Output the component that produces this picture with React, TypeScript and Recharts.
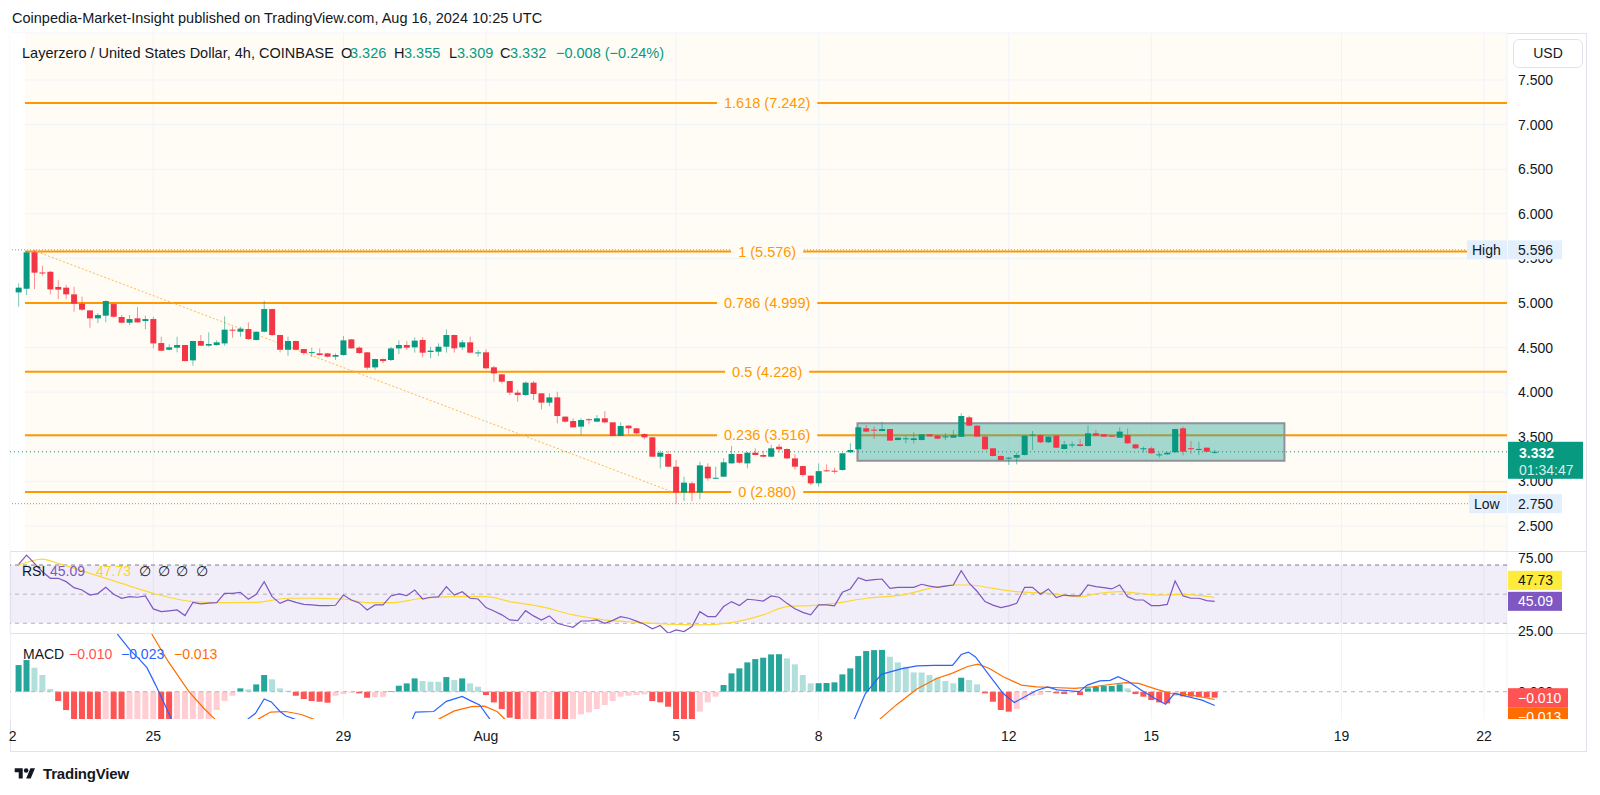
import React from "react";
import {
  ComposedChart,
  Bar,
  Line,
  XAxis,
  YAxis,
  CartesianGrid,
  ReferenceLine,
  ReferenceArea,
  ReferenceDot,
} from "recharts";

// ---------- DATA ----------
const TICK_INDEX = [-1, 17, 41, 59, 83, 101, 125, 143, 167, 185];
const TICK_LABELS = ["2", "25", "29", "Aug", "5", "8", "12", "15", "19", "22"];
const PRICE_TICKS = [2.5, 3, 3.5, 4, 4.5, 5, 5.5, 6, 6.5, 7, 7.5];

const OPEN = [
  5.119, 5.16, 5.568, 5.342, 5.35, 5.18, 5.172, 5.097, 4.992, 4.917,
  4.828, 4.858, 4.988, 4.843, 4.779, 4.828, 4.798, 4.82, 4.551, 4.476,
  4.499, 4.529, 4.357, 4.574, 4.522, 4.529, 4.547, 4.701, 4.678, 4.708,
  4.585, 4.678, 4.932, 4.641, 4.476, 4.574, 4.484, 4.445, 4.435, 4.435,
  4.398, 4.417, 4.592, 4.499, 4.447, 4.278, 4.372, 4.361, 4.491, 4.529,
  4.503, 4.585, 4.451, 4.454, 4.51, 4.641, 4.503, 4.559, 4.44, 4.447,
  4.279, 4.2, 4.125, 3.995, 3.969, 4.107, 3.987, 3.883, 3.942, 3.726,
  3.677, 3.614, 3.697, 3.67, 3.707, 3.662, 3.509, 3.625, 3.595, 3.531,
  3.494, 3.277, 3.307, 3.165, 2.874, 2.979, 2.874, 3.165, 3.034, 3.053,
  3.202, 3.307, 3.202, 3.322, 3.296, 3.277, 3.389, 3.363, 3.258, 3.172,
  3.064, 2.979, 3.124, 3.12, 3.128, 3.326, 3.36, 3.595, 3.58, 3.565,
  3.587, 3.464, 3.48, 3.464, 3.464, 3.528, 3.513, 3.5, 3.49, 3.5,
  3.718, 3.625, 3.502, 3.371, 3.285, 3.262, 3.266, 3.296, 3.52, 3.52,
  3.438, 3.513, 3.363, 3.41, 3.415, 3.397, 3.539, 3.528, 3.513, 3.49,
  3.52, 3.415, 3.368, 3.371, 3.3, 3.303, 3.326, 3.595, 3.372, 3.36,
  3.378, 3.326,
];
const HIGH = [
  5.22, 5.583, 5.596, 5.418, 5.36, 5.257, 5.201, 5.183, 5.071, 4.92,
  4.887, 5.03, 5.0, 4.865, 4.865, 4.955, 4.858, 4.846, 4.622, 4.536,
  4.622, 4.53, 4.575, 4.641, 4.671, 4.581, 4.85, 4.734, 4.734, 4.783,
  4.68, 5.026, 4.935, 4.645, 4.622, 4.578, 4.485, 4.499, 4.491, 4.44,
  4.435, 4.63, 4.595, 4.514, 4.45, 4.375, 4.375, 4.51, 4.581, 4.574,
  4.615, 4.615, 4.51, 4.548, 4.705, 4.645, 4.585, 4.623, 4.473, 4.481,
  4.294, 4.2, 4.125, 4.025, 4.118, 4.125, 3.99, 3.987, 4.006, 3.73,
  3.707, 3.707, 3.707, 3.744, 3.789, 3.665, 3.662, 3.63, 3.6, 3.539,
  3.495, 3.344, 3.344, 3.24, 3.053, 2.997, 3.221, 3.202, 3.165, 3.259,
  3.397, 3.31, 3.33, 3.371, 3.344, 3.408, 3.419, 3.37, 3.307, 3.175,
  3.07, 3.202, 3.191, 3.154, 3.32, 3.427, 3.61, 3.632, 3.614, 3.67,
  3.59, 3.49, 3.513, 3.55, 3.53, 3.53, 3.52, 3.54, 3.576, 3.763,
  3.737, 3.63, 3.51, 3.375, 3.29, 3.277, 3.326, 3.515, 3.565, 3.525,
  3.505, 3.515, 3.453, 3.445, 3.475, 3.625, 3.576, 3.53, 3.515, 3.606,
  3.595, 3.42, 3.39, 3.389, 3.326, 3.33, 3.59, 3.614, 3.453, 3.445,
  3.38, 3.355,
];
const LOW = [
  4.959, 5.089, 5.157, 5.306, 5.1, 5.044, 5.044, 4.903, 4.91, 4.723,
  4.775, 4.783, 4.835, 4.772, 4.753, 4.78, 4.708, 4.491, 4.46, 4.469,
  4.447, 4.345, 4.297, 4.52, 4.51, 4.521, 4.521, 4.611, 4.622, 4.585,
  4.58, 4.67, 4.63, 4.447, 4.409, 4.47, 4.417, 4.394, 4.409, 4.39,
  4.361, 4.41, 4.49, 4.428, 4.252, 4.252, 4.323, 4.349, 4.428, 4.473,
  4.443, 4.391, 4.38, 4.406, 4.443, 4.443, 4.473, 4.436, 4.398, 4.256,
  4.118, 4.099, 3.969, 3.894, 3.957, 3.912, 3.808, 3.845, 3.651, 3.658,
  3.605, 3.52, 3.64, 3.668, 3.651, 3.508, 3.508, 3.528, 3.531, 3.472,
  3.276, 3.146, 3.158, 2.75, 2.78, 2.78, 2.8, 3.008, 3.03, 3.05,
  3.2, 3.2, 3.146, 3.29, 3.27, 3.27, 3.322, 3.25, 3.135, 3.053,
  2.959, 2.941, 3.11, 3.09, 3.12, 3.32, 3.355, 3.555, 3.475, 3.56,
  3.455, 3.46, 3.427, 3.427, 3.46, 3.5, 3.475, 3.464, 3.49, 3.5,
  3.62, 3.5, 3.355, 3.28, 3.235, 3.184, 3.191, 3.29, 3.352, 3.43,
  3.43, 3.375, 3.36, 3.378, 3.39, 3.39, 3.51, 3.5, 3.5, 3.49,
  3.42, 3.365, 3.326, 3.31, 3.266, 3.3, 3.32, 3.29, 3.31, 3.296,
  3.33, 3.309,
];
const CLOSE = [
  5.172, 5.568, 5.34, 5.336, 5.153, 5.15, 5.097, 4.992, 4.925, 4.828,
  4.865, 5.022, 4.846, 4.779, 4.82, 4.783, 4.82, 4.547, 4.465, 4.503,
  4.529, 4.349, 4.574, 4.521, 4.54, 4.559, 4.701, 4.694, 4.712, 4.596,
  4.678, 4.932, 4.641, 4.476, 4.574, 4.476, 4.439, 4.449, 4.417, 4.398,
  4.417, 4.581, 4.491, 4.439, 4.275, 4.372, 4.349, 4.491, 4.529, 4.499,
  4.578, 4.443, 4.466, 4.51, 4.641, 4.492, 4.559, 4.443, 4.446, 4.268,
  4.211, 4.118, 3.995, 3.969, 4.107, 3.98, 3.883, 3.942, 3.733, 3.67,
  3.606, 3.688, 3.692, 3.707, 3.662, 3.509, 3.621, 3.595, 3.539, 3.494,
  3.277, 3.322, 3.165, 2.874, 2.986, 2.874, 3.18, 3.034, 3.041, 3.214,
  3.307, 3.21, 3.322, 3.296, 3.277, 3.371, 3.36, 3.258, 3.165, 3.072,
  2.978, 3.115, 3.113, 3.113, 3.315, 3.352, 3.606, 3.558, 3.576, 3.587,
  3.457, 3.49, 3.483, 3.483, 3.528, 3.505, 3.479, 3.505, 3.52, 3.733,
  3.625, 3.502, 3.36, 3.285, 3.24, 3.266, 3.296, 3.513, 3.524, 3.438,
  3.502, 3.378, 3.415, 3.414, 3.397, 3.539, 3.513, 3.502, 3.505, 3.558,
  3.427, 3.371, 3.371, 3.315, 3.303, 3.322, 3.587, 3.333, 3.371, 3.364,
  3.333, 3.332,
];

const FIB_RATIOS = ["1.618", "1", "0.786", "0.5", "0.236", "0"];
const FIB_PRICES = [7.242, 5.576, 4.999, 4.228, 3.516, 2.88];

const HIGH_PRICE = 5.596;
const LOW_PRICE = 2.75;
const LAST_PRICE = 3.332;
const COUNTDOWN = "01:34:47";

const RSI = [
  70.5, 76.8, 71.1, 65.4, 60.9, 60.9, 58.6, 54.5, 52.9, 49.4,
  50.4, 54.7, 49.9, 47.2, 48.3, 47.9, 48.8, 39.9, 38.0, 38.6,
  39.2, 35.3, 44.4, 43.3, 43.8, 44.2, 50.6, 50.6, 51.3, 46.5,
  49.9, 58.6, 48.3, 43.7, 46.0, 44.4, 43.0, 42.6, 42.2, 42.2,
  42.4, 49.4, 46.0, 44.0, 39.2, 42.6, 42.6, 48.8, 50.2, 49.0,
  52.9, 46.7, 47.9, 48.2, 55.2, 49.4, 51.7, 47.2, 46.7, 40.8,
  38.5, 35.8, 32.3, 31.9, 38.7, 35.1, 32.3, 35.1, 30.0, 28.5,
  27.3, 31.6, 31.6, 32.3, 30.0, 32.0, 34.6, 33.5, 31.5, 29.4,
  26.2, 28.5, 23.2, 25.5, 24.3, 27.8, 38.0, 34.6, 34.6, 41.5,
  44.9, 42.2, 46.5, 46.0, 45.3, 48.8, 47.9, 43.7, 40.0, 37.5,
  35.8, 42.6, 42.6, 42.0, 51.3, 53.6, 61.3, 59.3, 60.0, 60.4,
  54.0, 54.7, 54.7, 54.7, 56.8, 55.5, 54.7, 55.5, 56.3, 66.1,
  57.5, 52.0, 44.9, 42.5, 40.8, 42.0, 43.7, 54.7, 54.7, 49.9,
  53.6, 47.6, 49.4, 48.8, 49.0, 56.3, 55.2, 54.5, 53.6, 56.3,
  48.3, 46.0, 46.0, 42.2, 42.2, 43.0, 59.0, 48.8, 47.2, 47.2,
  45.6, 45.09,
];
const RSI_MA_IDX = [0, 3, 5, 9, 13, 17, 22, 26, 30, 34, 37, 41, 44, 47, 51, 55, 59, 62, 66, 70, 74, 78, 82, 86, 90, 94, 97, 100, 103, 107, 112, 115, 118, 120, 123, 126, 130, 134, 136, 139, 142, 144, 147, 151];
const RSI_MA_VAL = [70, 74.1, 71.1, 64.3, 57.4, 50.6, 44.9, 44.2, 44.4, 47.2, 47.2, 46.7, 44.2, 44.2, 47.2, 48.3, 48.3, 44.9, 41.5, 35.8, 32.3, 30.7, 29.4, 28.9, 30.5, 35.8, 41.5, 42.2, 43.7, 47.2, 49.9, 54.0, 56.3, 56.3, 54.0, 51.7, 50.6, 48.3, 50.2, 51.7, 50.2, 49.4, 49.9, 47.73];
const RSI_LAST = 45.09;
const RSI_MA_LAST = 47.73;

const HIST = [
  0.0444, 0.0528, 0.04, 0.0278, 0.0044, -0.0156, -0.0306, -0.05, -0.058, -0.066,
  -0.07, -0.068, -0.072, -0.078, -0.074, -0.07, -0.066, -0.062, -0.066, -0.07,
  -0.066, -0.06, -0.055, -0.05, -0.047, -0.0306, -0.0156, -0.0067, 0.0056, 0.0039,
  0.0122, 0.0278, 0.0206, 0.0056, 0.0017, -0.0067, -0.0122, -0.0156, -0.0167, -0.0183,
  -0.0067, -0.0039, -0.0017, -0.0028, -0.01, -0.0094, -0.0085, 0.0011, 0.01, 0.0139,
  0.0222, 0.0178, 0.0167, 0.0165, 0.0244, 0.0194, 0.0222, 0.0139, 0.0083, -0.0056,
  -0.0178, -0.0289, -0.0433, -0.05, -0.048, -0.052, -0.05, -0.048, -0.05, -0.052,
  -0.048, -0.0378, -0.0344, -0.0289, -0.0222, -0.0156, -0.0083, -0.0067, -0.0056, -0.0044,
  -0.0156, -0.0178, -0.025, -0.05, -0.06, -0.062, -0.0333, -0.0178, -0.0083, 0.0111,
  0.0306, 0.0389, 0.0489, 0.0544, 0.0567, 0.0622, 0.0625, 0.0556, 0.0456, 0.0278,
  0.0139, 0.0142, 0.0145, 0.0156, 0.0289, 0.0389, 0.0594, 0.0678, 0.0694, 0.0697,
  0.0583, 0.0489, 0.0417, 0.0322, 0.032, 0.0278, 0.0233, 0.0178, 0.0139, 0.0233,
  0.0194, 0.0122, -0.0028, -0.0167, -0.0306, -0.0333, -0.0289, -0.0139, -0.0067, -0.0056,
  0.0011, -0.0028, -0.0039, -0.0017, -0.0056, 0.0056, 0.0083, 0.0094, 0.0095, 0.0122,
  0.0056, -0.0039, -0.0083, -0.0139, -0.0178, -0.0194, -0.0072, -0.0078, -0.0083, -0.009,
  -0.0095, -0.01,
];

// [candle index, value]; a null value breaks the line where it leaves the pane
const MACD_PTS = [
  [11.5, 0.115], [12.6, 0.094], [14.1, 0.069], [15.1, 0.056], [16.2, 0.04], [17.3, 0.011], [18.3, -0.017], [19.3, -0.046], [19.8, -0.06],
  [24, null],
  [28.5, -0.06], [28.9, -0.046], [29.9, -0.036], [31, -0.012], [31.9, -0.017], [33, -0.033], [33.7, -0.04], [34.9, -0.046], [35.3, -0.055],
  [42, null],
  [49.5, -0.058], [49.7, -0.046], [50.1, -0.034], [52.4, -0.033], [54, -0.016], [55, -0.012], [56, -0.008], [56.9, -0.014], [58.2, -0.022], [59.5, -0.046], [59.8, -0.055],
  [80, null],
  [105.2, -0.058], [105.5, -0.046], [106.9, -0.003], [108.9, 0.029], [111.4, 0.038], [113.4, 0.043], [115.6, 0.044], [117.9, 0.044], [119, 0.062], [119.9, 0.066], [120.8, 0.058], [122.5, 0.028], [124.3, -0.003], [125.7, -0.018], [127.2, -0.007], [128.5, 0.002], [129.9, 0.008], [131.1, 0.003], [132.3, 0.002], [133.9, 0], [134.9, 0.011], [136.5, 0.018], [137.8, 0.019], [138.8, 0.025], [140.1, 0.017], [141.7, 0.003], [143.3, -0.01], [144.8, -0.021], [145.9, -0.003], [147.5, -0.008], [149.4, -0.014], [151, -0.023],
];
const SIGNAL_PTS = [
  [16.4, 0.108], [16.9, 0.094], [18.9, 0.05], [21.5, 0], [23.4, -0.028], [24.8, -0.046], [25.3, -0.055],
  [27, null],
  [29.6, -0.058], [30.2, -0.046], [31.8, -0.034], [33.7, -0.033], [35.7, -0.038], [37.3, -0.046], [38, -0.052],
  [45, null],
  [52.3, -0.056], [53, -0.046], [55, -0.032], [57.2, -0.025], [58.8, -0.024], [60.4, -0.033], [61.4, -0.046], [62, -0.053],
  [85, null],
  [108.2, -0.056], [108.7, -0.046], [110.8, -0.022], [113.4, 0.0044], [115.9, 0.022], [117.9, 0.031], [119.8, 0.042], [121.1, 0.046], [122.5, 0.039], [124.3, 0.025], [126.6, 0.011], [128.5, 0.008], [130.7, 0.007], [133.3, 0.0056], [135.6, 0.008], [137.8, 0.012], [139.8, 0.015], [141.4, 0.014], [143.6, 0.0044], [145.5, -0.003], [148.1, -0.0056], [151, -0.013],
];
const HIST_LAST = -0.01;
const MACD_LAST = -0.023;
const SIGNAL_LAST = -0.013;

// ---------- STYLE / LAYOUT ----------
const GREEN = "#089981";
const RED = "#f23645";
const ORANGE = "#ff9800";
const TEXT = "#131722";
const GRID = "#f0f3fa";
const CREAM = "#fffcf5";
const FONT = "'Liberation Sans', Arial, sans-serif";

const X_MIN = -1.09;
const X_MAX = 187.9;
const FRAME_L = 10;
const CHART_W = 1577;
const AXIS_W = 80;
const FIB_START = 0.8;
const FIB_LABEL_X = 94.5;
const BODY_W = 6;

const PRICE_H = 518;
const PRICE_DOMAIN = [2.2197, 8.027];
const RSI_H = 81;
const RSI_DOMAIN = [23.35, 78.95];
const MACD_H = 85;
const MACD_DOMAIN = [-0.0455, 0.0962];
const NO_MARGIN = { top: 0, right: 0, bottom: 0, left: 0 };

const candles = OPEN.map((o, i) => ({ i, o, h: HIGH[i], l: LOW[i], c: CLOSE[i] }));
const rsiData = RSI.map((v, i) => ({ i, v }));
const rsiMaData = RSI_MA_IDX.map((i, k) => ({ i, v: RSI_MA_VAL[k] }));
const histData = HIST.map((v, i) => ({ i, v }));
const macdData = MACD_PTS.map(([i, v]) => ({ i, v }));
const signalData = SIGNAL_PTS.map(([i, v]) => ({ i, v }));

const histColor = (i: number) => {
  const v = HIST[i];
  const prev = i > 0 ? HIST[i - 1] : v;
  if (v >= 0) return v >= prev ? "#26a69a" : "#b2dfdb";
  return v < prev ? "#ff5252" : "#ffcdd2";
};

const CW: Record<string, number> = { ".": 0.278, " ": 0.278, "(": 0.333, ")": 0.333 };
const textW = (s: string, fs: number) =>
  s.split("").reduce((a, ch) => a + (CW[ch] !== undefined ? CW[ch] : 0.556), 0) * fs;

const fmt3 = (v: number) => (v < 0 ? "\u2212" : "") + Math.abs(v).toFixed(3);

// ---------- SHAPES ----------
const Candle = (props: any) => {
  const { x, y, width, height, payload } = props;
  if (!payload || x == null || y == null) return <g />;
  const { o, h, l, c } = payload;
  const top0 = height < 0 ? y + height : y;
  const hh = Math.abs(height);
  const range = h - l || 1e-9;
  const yOf = (v: number) => top0 + ((h - v) / range) * hh;
  const color = c >= o ? GREEN : RED;
  const bt = yOf(Math.max(o, c));
  const bb = yOf(Math.min(o, c));
  const cx = x + width / 2;
  return (
    <g>
      <line x1={cx} x2={cx} y1={top0} y2={top0 + hh} stroke={color} strokeOpacity={0.55} strokeWidth={1} />
      <rect x={cx - BODY_W / 2} y={bt} width={BODY_W} height={Math.max(1, bb - bt)} fill={color} />
    </g>
  );
};

const HistBar = (props: any) => {
  const { x, y, width, height, index } = props;
  if (x == null || y == null) return <g />;
  const top0 = height < 0 ? y + height : y;
  const cx = x + width / 2;
  return <rect x={cx - BODY_W / 2} y={top0} width={BODY_W} height={Math.abs(height)} fill={histColor(index)} />;
};

const fibLabelShape = (text: string) => (props: any) => {
  const { cx, cy } = props;
  if (cx == null) return <g />;
  const fs = 14.5;
  const w = textW(text, fs);
  return (
    <g>
      <rect x={cx - w / 2 - 7} y={cy - 4} width={w + 14} height={8} fill={CREAM} />
      <text x={cx} y={cy + 5} textAnchor="middle" fill={ORANGE} fontSize={fs} fontFamily={FONT}>
        {text}
      </text>
    </g>
  );
};

const tagShape = (opts: any) => (props: any) => {
  const { cx, cy } = props;
  if (cx == null) return <g />;
  const { text, bg, color, w = 54, h = 19, off = 0, side, sideW = 40 } = opts;
  const top = cy - h / 2 + off;
  return (
    <g>
      {side ? (
        <g>
          <rect x={cx - sideW} y={top} width={sideW} height={h} fill={bg} />
          <text x={cx - sideW + 5} y={top + h / 2 + 5} fill={TEXT} fontSize={14} fontFamily={FONT}>
            {side}
          </text>
        </g>
      ) : null}
      <rect x={cx + 1} y={top} width={w} height={h} fill={bg} />
      <text x={cx + 11} y={top + h / 2 + 5} fill={color} fontSize={14} fontFamily={FONT}>
        {text}
      </text>
    </g>
  );
};

const lastPriceShape = (props: any) => {
  const { cx, cy } = props;
  if (cx == null) return <g />;
  return (
    <g>
      <rect x={cx + 1} y={cy - 10} width={75} height={37} fill={GREEN} />
      <text x={cx + 12} y={cy + 6} fill="#ffffff" fontSize={14} fontWeight={700} fontFamily={FONT}>
        {LAST_PRICE.toFixed(3)}
      </text>
      <text x={cx + 12} y={cy + 23} fill="#ffffff" fillOpacity={0.85} fontSize={14} fontFamily={FONT}>
        {COUNTDOWN}
      </text>
    </g>
  );
};

const AxisTick = (digits: number) => (props: any) => {
  const { x, y, payload } = props;
  return (
    <text x={x} y={y + 5} fill={TEXT} fontSize={14} fontFamily={FONT}>
      {Number(payload.value).toFixed(digits)}
    </text>
  );
};

const TimeTick = (props: any) => {
  const { x, y, payload, index } = props;
  const label = TICK_LABELS[TICK_INDEX.indexOf(payload.value)] ?? "";
  return (
    <text x={index === 0 ? x + 2 : x} y={y + 22} textAnchor="middle" fill={TEXT} fontSize={14} fontFamily={FONT}>
      {label}
    </text>
  );
};

const axes = (domain: number[], ticks: number[] | null, digits: number) => [
  <XAxis key="x" type="number" dataKey="i" domain={[X_MIN, X_MAX]} allowDataOverflow hide ticks={TICK_INDEX} interval={0} />,
  <YAxis
    key="y"
    orientation="right"
    width={AXIS_W}
    domain={domain}
    allowDataOverflow
    ticks={ticks || []}
    interval={0}
    tick={ticks ? AxisTick(digits) : false}
    tickSize={0}
    tickMargin={11}
    axisLine={false}
    tickLine={false}
  />,
];

const ghost = <Line key="ghost" dataKey="i" stroke="none" dot={false} isAnimationActive={false} legendType="none" />;

const abs = (left: number, top: number, extra: any = {}) => ({ position: "absolute" as const, left, top, ...extra });

// ---------- APP ----------
export default function App() {
  const legend = (fs: number) => ({ fontSize: fs, fontFamily: FONT, whiteSpace: "nowrap" as const, lineHeight: "16px" });
  return (
    <div style={abs(0, 0, { width: 1600, height: 795, background: "#ffffff", fontFamily: FONT, overflow: "hidden" })}>
      <style>{`.recharts-surface{overflow:visible}`}</style>
      {/* title */}
      <div style={abs(12, 10, { ...legend(14.5), color: TEXT })}>
        Coinpedia-Market-Insight published on TradingView.com, Aug 16, 2024 10:25 UTC
      </div>

      {/* frame */}
      <div style={abs(FRAME_L, 33, { width: CHART_W, height: 719, border: "1px solid #e0e3eb", boxSizing: "border-box" })} />

      {/* PRICE PANE: layer 1 background, grid, high/low markers, fibonacci */}
      <div style={abs(FRAME_L, 33)}>
        <ComposedChart width={CHART_W} height={PRICE_H} data={candles} margin={NO_MARGIN}>
          {axes(PRICE_DOMAIN, PRICE_TICKS, 3)}
          <CartesianGrid stroke={GRID} fill={CREAM} fillOpacity={1} />
          <ReferenceArea x1={X_MIN} x2={FIB_START} y1={PRICE_DOMAIN[0]} y2={PRICE_DOMAIN[1]} fill="#ffffff" fillOpacity={1} stroke="none" ifOverflow="hidden" />
          <ReferenceLine y={HIGH_PRICE} stroke="#9598a1" strokeDasharray="1 2" />
          <ReferenceLine y={LOW_PRICE} stroke="#9598a1" strokeDasharray="1 2" />
          {FIB_PRICES.map((p) => (
            <ReferenceLine
              key={"fib" + p}
              segment={[{ x: FIB_START, y: p }, { x: X_MAX, y: p }]}
              stroke={ORANGE}
              strokeWidth={2}
              ifOverflow="visible"
            />
          ))}
          <ReferenceLine
            segment={[{ x: 2.3, y: FIB_PRICES[1] }, { x: 82.6, y: FIB_PRICES[5] }]}
            stroke="#ffb74d"
            strokeWidth={1}
            strokeDasharray="2 2"
            ifOverflow="visible"
          />
          {FIB_PRICES.map((p, k) => (
            <ReferenceDot
              key={"fl" + p}
              x={FIB_LABEL_X}
              y={p}
              r={0}
              ifOverflow="visible"
              shape={fibLabelShape(`${FIB_RATIOS[k]} (${p.toFixed(3)})`)}
            />
          ))}
          {ghost}
        </ComposedChart>
      </div>
      {/* layer 2: rectangle drawing and last price line */}
      <div style={abs(FRAME_L, 33)}>
        <ComposedChart width={CHART_W} height={PRICE_H} data={candles} margin={NO_MARGIN}>
          {axes(PRICE_DOMAIN, null, 3)}
          <ReferenceArea
            x1={105.9}
            x2={159.8}
            y1={3.232}
            y2={3.651}
            fill="#26a69a"
            fillOpacity={0.42}
            stroke="#8f9399"
            strokeWidth={2}
            ifOverflow="visible"
          />
          <ReferenceLine y={LAST_PRICE} stroke={GREEN} strokeDasharray="1 3" />
          {ghost}
        </ComposedChart>
      </div>
      {/* layer 3: candles */}
      <div style={abs(FRAME_L, 33)}>
        <ComposedChart width={CHART_W} height={PRICE_H} data={candles} margin={NO_MARGIN}>
          {axes(PRICE_DOMAIN, null, 3)}
          <Bar dataKey={(d: any) => [d.l, d.h]} barSize={BODY_W} shape={Candle} isAnimationActive={false} />
        </ComposedChart>
      </div>
      {/* layer 4: scale tags */}
      <div style={abs(FRAME_L, 33)}>
        <ComposedChart width={CHART_W} height={PRICE_H} data={candles} margin={NO_MARGIN}>
          {axes(PRICE_DOMAIN, null, 3)}
          <ReferenceDot
            x={X_MAX}
            y={HIGH_PRICE}
            r={0}
            ifOverflow="visible"
            shape={tagShape({ text: HIGH_PRICE.toFixed(3), bg: "#e3effd", color: TEXT, side: "High", sideW: 40 })}
          />
          <ReferenceDot
            x={X_MAX}
            y={LOW_PRICE}
            r={0}
            ifOverflow="visible"
            shape={tagShape({ text: LOW_PRICE.toFixed(3), bg: "#e3effd", color: TEXT, side: "Low", sideW: 38 })}
          />
          <ReferenceDot x={X_MAX} y={LAST_PRICE} r={0} ifOverflow="visible" shape={lastPriceShape} />
          {ghost}
        </ComposedChart>
      </div>

      {/* USD box */}
      <div
        style={abs(1513, 39, {
          width: 70,
          height: 29,
          border: "1px solid #e0e3eb",
          borderRadius: 6,
          boxSizing: "border-box",
          background: "#ffffff",
          fontSize: 14,
          color: TEXT,
          textAlign: "center",
          lineHeight: "27px",
        })}
      >
        USD
      </div>

      {/* price legend */}
      <div style={abs(22, 45, { ...legend(14.5), color: TEXT })}>Layerzero / United States Dollar, 4h, COINBASE</div>
      {[
        ["O", 341, "3.326", 350],
        ["H", 394, "3.355", 404],
        ["L", 449, "3.309", 457],
        ["C", 500, "3.332", 510],
      ].map(([k, kx, v, vx]) => (
        <React.Fragment key={k as string}>
          <div style={abs(kx as number, 45, { ...legend(14.5), color: TEXT })}>{k}</div>
          <div style={abs(vx as number, 45, { ...legend(14.5), color: GREEN })}>{v}</div>
        </React.Fragment>
      ))}
      <div style={abs(556, 45, { ...legend(14.5), color: GREEN })}>{"\u22120.008 (\u22120.24%)"}</div>

      {/* separators */}
      <div style={abs(FRAME_L, 551, { width: CHART_W, height: 1, background: "#e0e3eb" })} />
      <div style={abs(FRAME_L, 633, { width: CHART_W, height: 1, background: "#e0e3eb" })} />

      {/* RSI PANE */}
      <div style={abs(FRAME_L, 552)}>
        <ComposedChart width={CHART_W} height={RSI_H} data={rsiData} margin={NO_MARGIN}>
          {axes(RSI_DOMAIN, [25, 75], 2)}
          <CartesianGrid stroke={GRID} horizontal={false} />
          <ReferenceArea x1={X_MIN} x2={X_MAX} y1={30} y2={70} fill="#7e57c2" fillOpacity={0.1} stroke="none" ifOverflow="hidden" />
          <ReferenceLine y={70} stroke="#787b86" strokeDasharray="4 4" />
          <ReferenceLine y={50} stroke="#b2b5be" strokeDasharray="4 4" />
          <ReferenceLine y={30} stroke="#b2b5be" strokeDasharray="4 4" />
          <Line data={rsiMaData} dataKey="v" type="monotone" stroke="#fdd835" strokeWidth={1.2} dot={false} isAnimationActive={false} />
          <Line dataKey="v" type="linear" stroke="#7e57c2" strokeWidth={1.2} dot={false} isAnimationActive={false} />
          <ReferenceDot x={X_MAX} y={RSI_LAST} r={0} ifOverflow="visible" shape={tagShape({ text: RSI_LAST.toFixed(2), bg: "#7e57c2", color: "#ffffff" })} />
          <ReferenceDot x={X_MAX} y={RSI_LAST} r={0} ifOverflow="visible" shape={tagShape({ text: RSI_MA_LAST.toFixed(2), bg: "#ffeb3b", color: TEXT, off: -21 })} />
        </ComposedChart>
      </div>
      <div style={abs(22, 563, { ...legend(14), color: TEXT })}>RSI</div>
      <div style={abs(50, 563, { ...legend(14), color: "#7e57c2" })}>{RSI_LAST.toFixed(2)}</div>
      <div style={abs(96, 563, { ...legend(14), color: "#f9d71c" })}>{RSI_MA_LAST.toFixed(2)}</div>
      {[139, 158, 176, 196].map((x) => (
        <div key={x} style={abs(x, 563, { ...legend(14), color: TEXT })}>{"\u2205"}</div>
      ))}

      {/* MACD PANE */}
      <div style={abs(FRAME_L, 634, { width: CHART_W, height: MACD_H, overflow: "hidden" })}>
        <div style={abs(0, 0)}>
          <ComposedChart width={CHART_W} height={MACD_H} data={histData} margin={NO_MARGIN}>
            {axes(MACD_DOMAIN, [0], 3)}
            <CartesianGrid stroke={GRID} horizontal={false} />
            <ReferenceLine y={0} stroke="#b2b5be" strokeDasharray="4 4" />
            <Bar dataKey="v" barSize={BODY_W} shape={HistBar} isAnimationActive={false} />
            <Line data={signalData} dataKey="v" type="linear" stroke="#ff6d00" strokeWidth={1.2} dot={false} isAnimationActive={false} />
            <Line data={macdData} dataKey="v" type="linear" stroke="#2962ff" strokeWidth={1.2} dot={false} isAnimationActive={false} />
          </ComposedChart>
        </div>
        <div style={abs(0, 0)}>
          <ComposedChart width={CHART_W} height={MACD_H} data={histData} margin={NO_MARGIN}>
            {axes(MACD_DOMAIN, null, 3)}
            <ReferenceDot x={X_MAX} y={HIST_LAST} r={0} ifOverflow="visible" shape={tagShape({ text: fmt3(HIST_LAST), bg: "#ff5252", color: "#ffffff", w: 60 })} />
            <ReferenceDot x={X_MAX} y={HIST_LAST} r={0} ifOverflow="visible" shape={tagShape({ text: fmt3(SIGNAL_LAST), bg: "#ff6d00", color: "#ffffff", w: 60, off: 19 })} />
            {ghost}
          </ComposedChart>
        </div>
      </div>
      <div style={abs(23, 646, { ...legend(14), color: TEXT })}>MACD</div>
      <div style={abs(69, 646, { ...legend(14), color: "#ff5252" })}>{fmt3(HIST_LAST)}</div>
      <div style={abs(121, 646, { ...legend(14), color: "#2962ff" })}>{fmt3(MACD_LAST)}</div>
      <div style={abs(174, 646, { ...legend(14), color: "#ff6d00" })}>{fmt3(SIGNAL_LAST)}</div>

      {/* TIME AXIS */}
      <div style={abs(FRAME_L, 712)}>
        <ComposedChart width={CHART_W} height={40} data={candles} margin={{ top: 0, right: AXIS_W, bottom: 0, left: 0 }}>
          <XAxis
            type="number"
            dataKey="i"
            domain={[X_MIN, X_MAX]}
            allowDataOverflow
            ticks={TICK_INDEX}
            interval={0}
            tick={TimeTick}
            tickSize={0}
            tickMargin={0}
            axisLine={false}
            tickLine={false}
            height={33}
          />
          <YAxis hide domain={[0, 10]} />
          <Line dataKey="c" stroke="none" dot={false} isAnimationActive={false} />
        </ComposedChart>
      </div>

      {/* TradingView logo */}
      <div style={abs(12, 765, { display: "flex", alignItems: "center", gap: 5 })}>
        <svg width="26" height="16" viewBox="0 0 36 28">
          <path d="M14 22H7V11H0V4h14v18zM28 22h-8l7.5-18h8L28 22z" fill={TEXT} />
          <circle cx="20" cy="8" r="4" fill={TEXT} />
        </svg>
        <span style={{ fontSize: 15, fontWeight: 700, color: TEXT, fontFamily: FONT, letterSpacing: "-0.2px" }}>TradingView</span>
      </div>
    </div>
  );
}
